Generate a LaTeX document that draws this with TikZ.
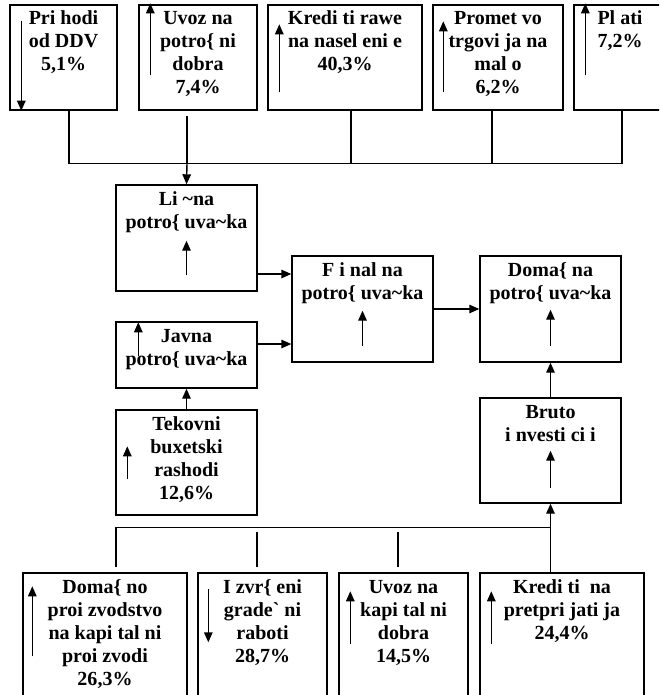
\documentclass[tikz,border=0pt]{standalone}
\usepackage{fontspec}
\setmainfont{Liberation Serif}
\usepackage{tikz}
\usetikzlibrary{arrows.meta}
\newcommand{\mkS}{\{}
\newcommand{\mkC}{\textasciitilde}
\newcommand{\mkZ}{\textasciigrave}
\newcommand{\Kutija}[3]{\parbox[c][#2][t]{#1}{\centering\rule{0pt}{20pt}#3\par}}

\begin{document}
\begin{tikzpicture}[x=1pt, y=-1pt,
  blok/.style={draw, line width=1.4pt, inner sep=0pt,
    font=\fontsize{20}{23}\selectfont\bfseries},
  linija/.style={line width=1.1pt},
  strelka/.style={line width=1.4pt, -{Triangle[length=10pt,width=8.5pt]}}]

  \useasboundingbox (0,0) rectangle (659,695);
  \clip (0,0) rectangle (659,695);

  % gore
  \node[blok] (prihodi) at (63.5,57.5) {\Kutija{107pt}{105pt}{Pri hodi\\od DDV\\5,1\%}};
  \node[blok] (uvozpot) at (198,57.5)  {\Kutija{118pt}{105pt}{Uvoz na\\potro\mkS{} ni\\dobra\\7,4\%}};
  \node[blok] (kredn)   at (345,57.5)  {\Kutija{154pt}{105pt}{Kredi ti rawe\\na nasel eni e\\40,3\%}};
  \node[blok] (promet)  at (498,57.5)  {\Kutija{130pt}{105pt}{Promet vo\\trgovi ja na\\mal o\\6,2\%}};
  \node[blok] (plati)   at (620,57.5)  {\Kutija{92pt}{105pt}{Pl ati\\7,2\%}};

  % sredina
  \node[blok] (licna)   at (186.5,238)   {\Kutija{141pt}{106pt}{Li \mkC{}na\\potro\mkS{} uva\mkC{}ka}};
  \node[blok] (javna)   at (186.5,355)   {\Kutija{141pt}{66pt}{Javna\\potro\mkS{} uva\mkC{}ka}};
  \node[blok] (tekovni) at (186.5,462.5) {\Kutija{141pt}{105pt}{Tekovni\\buxetski\\rashodi\\12,6\%}};
  \node[blok] (finalna) at (362.5,309)   {\Kutija{141pt}{106pt}{F i nal na\\potro\mkS{} uva\mkC{}ka}};
  \node[blok] (domasna) at (550.5,309)   {\Kutija{141pt}{106pt}{Doma\mkS{} na\\potro\mkS{} uva\mkC{}ka}};
  \node[blok] (bruto)   at (550.5,450.5) {\Kutija{141pt}{105pt}{Bruto\\i nvesti ci i}};

  % dolu
  \node[blok] (domproiz) at (105,638)   {\Kutija{164pt}{130pt}{Doma\mkS{} no\\proi zvodstvo\\na kapi tal ni\\proi zvodi\\26,3\%}};
  \node[blok] (izvrseni) at (262.5,638) {\Kutija{129pt}{130pt}{I zvr\mkS{} eni\\grade\mkZ{} ni\\raboti\\28,7\%}};
  \node[blok] (uvozkap)  at (403.5,638) {\Kutija{129pt}{130pt}{Uvoz na\\kapi tal ni\\dobra\\14,5\%}};
  \node[blok] (kredpret) at (562,638)   {\Kutija{164pt}{130pt}{Kredi ti\ \ na\\pretpri jati ja\\24,4\%}};

  % gornata magistrala
  \draw[linija] ([xshift=5.5pt]prihodi.south) -- ++(0,53) -| ([xshift=2pt]plati.south);
  \draw[linija] ([xshift=6pt]kredn.south) -- ++(0,53);
  \draw[linija] ([xshift=-6pt]promet.south) -- ++(0,53);
  \draw[linija] ([xshift=-11pt,yshift=-5pt]uvozpot.south) -- ++(0,48);
  \draw[strelka] ([xshift=-11pt]uvozpot.south |- 0,163) -- (licna.north);

  \draw[strelka] ([yshift=-36pt]licna.east) -- ([yshift=-36pt]licna.east -| finalna.west);
  \draw[strelka] ([yshift=11pt]javna.east) -- ([yshift=11pt]javna.east -| finalna.west);
  \draw[strelka] (finalna) -- (domasna);
  \draw[strelka] (tekovni) -- (javna);
  \draw[strelka] (bruto) -- (domasna);

  % dolnata magistrala
  \draw[linija] ([xshift=11pt,yshift=5pt]domproiz.north) -- ++(0,-40) -| (bruto.south |- kredpret.north);
  \draw[linija] ([xshift=-5.5pt,yshift=5pt]izvrseni.north) -- ++(0,-35);
  \draw[linija] ([xshift=-5.5pt,yshift=5pt]uvozkap.north) -- ++(0,-35);
  \draw[strelka] (bruto.south |- kredpret.north) -- (bruto.south);

  % strelki vo kutiite
  \draw[strelka] ([xshift=12pt,yshift=-17pt]prihodi.north west) -- ([xshift=12pt]prihodi.south west);
  \draw[strelka] ([xshift=12pt,yshift=-71pt]uvozpot.north west) -- ++(0,-72);
  \draw[strelka] ([xshift=12pt,yshift=-88pt]kredn.north west) -- ++(0,-68);
  \draw[strelka] ([xshift=11pt,yshift=-88pt]promet.north west) -- ++(0,-71);
  \draw[strelka] ([xshift=12pt,yshift=-71pt]plati.north west) -- ++(0,-72);

  \draw[strelka] ([yshift=17pt]licna.south) -- ++(0,-34);
  \draw[strelka] ([xshift=23pt,yshift=-35pt]javna.north west) -- ++(0,-34);
  \draw[strelka] ([xshift=12pt,yshift=-70pt]tekovni.north west) -- ++(0,-33);
  \draw[strelka] ([yshift=17pt]finalna.south) -- ++(0,-35);
  \draw[strelka] ([yshift=17pt]domasna.south) -- ++(0,-36);
  \draw[strelka] ([yshift=16pt]bruto.south) -- ++(0,-37);

  \draw[strelka] ([xshift=10pt,yshift=-84pt]domproiz.north west) -- ++(0,-70);
  \draw[strelka] ([xshift=11pt,yshift=-17pt]izvrseni.north west) -- ++(0,53);
  \draw[strelka] ([xshift=12pt,yshift=-72pt]uvozkap.north west) -- ++(0,-53);
  \draw[strelka] ([xshift=12pt,yshift=-72pt]kredpret.north west) -- ++(0,-53);
\end{tikzpicture}
\end{document}
